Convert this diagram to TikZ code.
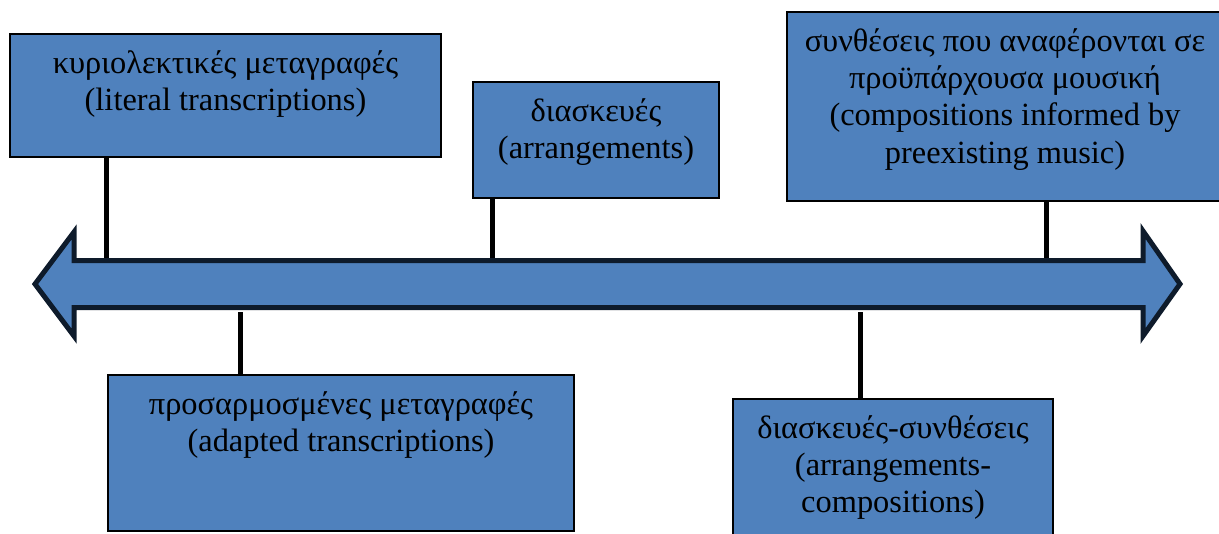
\documentclass[tikz,border=0pt]{standalone}
\usepackage{fontspec}
\setmainfont{Liberation Serif}
\usepackage{xcolor}
\usetikzlibrary{positioning}
\definecolor{boxblue}{HTML}{4F81BD}
\definecolor{rimnavy}{HTML}{0E1B2B}

\begin{document}
\begin{tikzpicture}[x=0.5pt, y=-0.5pt,
  box/.style={draw=black, line width=1pt, fill=boxblue, anchor=north west,
    inner sep=0pt, outer sep=0pt},
  txt/.style={anchor=north, align=center, inner sep=0pt, yshift=-6.5pt,
    font=\fontsize{16.2}{18.6}\selectfont},
  stem/.style={line width=2.5pt, black}]
  \useasboundingbox (0,0) rectangle (1219,534);

  % Axis levels
  \coordinate (bodytop) at (0,258);
  \coordinate (bodybot) at (0,312);

  % Boxes above
  \node[box, minimum width=215.5pt, minimum height=61.5pt] (lit) at (10,34) {};
  \node[box, minimum width=123pt, minimum height=58pt] (arr) at (473,82) {};
  \node[box, minimum width=218pt, minimum height=94.5pt] (comp) at (787,12) {};

  % Boxes below
  \node[box, minimum width=233pt, minimum height=78pt] (adapt) at (108,375) {};
  \node[box, minimum width=160pt, minimum height=72pt] (arrcomp) at (733,399) {};

  % Stems
  \path (lit.south west) ++(96,0) coordinate (s1);
  \draw[stem] (s1) -- (s1 |- bodytop);
  \path (arr.south west) ++(19,0) coordinate (s2);
  \draw[stem] (s2) -- (s2 |- bodytop);
  \path (comp.south west) ++(259,0) coordinate (s3);
  \draw[stem] (s3) -- (s3 |- bodytop);
  \path (adapt.north west) ++(132,0) coordinate (s4);
  \draw[stem] (s4) -- (s4 |- bodybot);
  \path (arrcomp.north west) ++(127,0) coordinate (s5);
  \draw[stem] (s5) -- (s5 |- bodybot);

  % Double arrow
  \draw[line width=2.5pt, draw=rimnavy, fill=boxblue, line join=miter]
    (35,284) -- (74,232) -- (74,260.5) -- (1143,260.5) -- (1143,231)
    -- (1180,284) -- (1143,336) -- (1143,307.5) -- (74,307.5)
    -- (74,336) -- cycle;

  % Labels
  \node[txt] (lit-t) at (lit.north)
    {\strut κυριολεκτικές μεταγραφές\\(literal transcriptions)};
  \node[txt] (arr-t) at (arr.north)
    {\strut διασκευές\\(arrangements)};
  \node[txt] (comp-t) at (comp.north)
    {\strut συνθέσεις που αναφέρονται σε\\προϋπάρχουσα μουσική\\(compositions informed by\\preexisting music)};
  \node[txt] (adapt-t) at (adapt.north)
    {\strut προσαρμοσμένες μεταγραφές\\(adapted transcriptions)};
  \node[txt] (arrcomp-t) at (arrcomp.north)
    {\strut διασκευές-συνθέσεις\\(arrangements-\\compositions)};
\end{tikzpicture}
\end{document}
